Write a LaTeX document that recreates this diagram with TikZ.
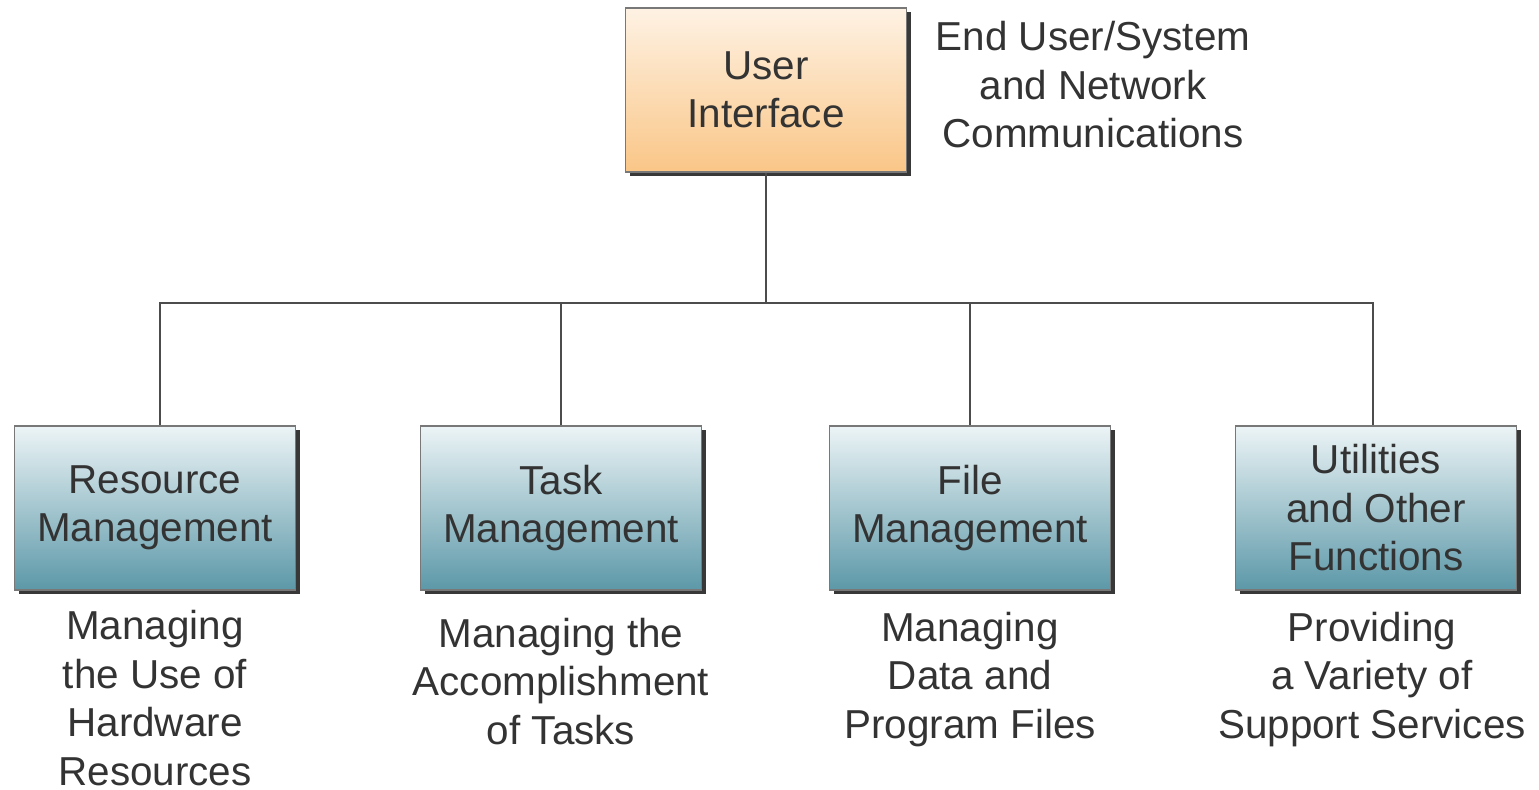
\documentclass[tikz,border=0pt]{standalone}
\usepackage{fontspec}
\setmainfont{Liberation Sans}
\usetikzlibrary{shadows}
\definecolor{txtgray}{RGB}{51,51,51}
\definecolor{edgegray}{RGB}{120,120,120}
\definecolor{orangetop}{RGB}{254,242,228}
\definecolor{orangebot}{RGB}{250,198,135}
\definecolor{tealtop}{RGB}{236,244,246}
\definecolor{tealbot}{RGB}{92,152,168}
\begin{document}
\begin{tikzpicture}[
	every node/.style={font=\fontsize{23}{27.6}\selectfont, text=txtgray, align=center},
	box/.style={draw=edgegray, line width=0.8pt, minimum width=5.62cm, minimum height=3.28cm,
		drop shadow={shadow xshift=0.09cm, shadow yshift=-0.09cm, fill=black!78, opacity=1}},
	uibox/.style={box, top color=orangetop, bottom color=orangebot},
	funcbox/.style={box, top color=tealtop, bottom color=tealbot},
	link/.style={draw=black!70, line width=1.2pt}]
	\useasboundingbox (0,0) rectangle (30.78,15.8);
	% top box and its note
	\node[uibox] (ui) at (15.32,14.0) {User\\Interface};
	\node (uinote) at (21.86,14.1) {End User/System\\and Network\\Communications};
	% the four functions
	\node[funcbox] (rm) at (3.10,5.64) {Resource\\Management};
	\node[funcbox] (tm) at (11.22,5.64) {Task\\Management};
	\node[funcbox] (fm) at (19.40,5.64) {File\\Management};
	\node[funcbox] (uf) at (27.52,5.64) {Utilities\\and Other\\Functions};
	\node (rmnote) at (3.10,1.84) {Managing\\the Use of\\Hardware\\Resources};
	\node (tmnote) at (11.22,2.17) {Managing the\\Accomplishment\\of Tasks};
	\node (fmnote) at (19.40,2.21) {Managing\\Data and\\Program Files};
	\node (ufnote) at (27.44,2.21) {Providing\\a Variety of\\Support Services};
	% tree lines
	\coordinate (bus) at (15.32,9.74);
	\draw[link] (ui.south) -- (bus);
	\draw[link] ([xshift=0.1cm]rm.north) |- (bus) -| ([xshift=-0.06cm]uf.north);
	\draw[link] (tm.north) -- (tm.north |- bus);
	\draw[link] (fm.north) -- (fm.north |- bus);
\end{tikzpicture}
\end{document}
